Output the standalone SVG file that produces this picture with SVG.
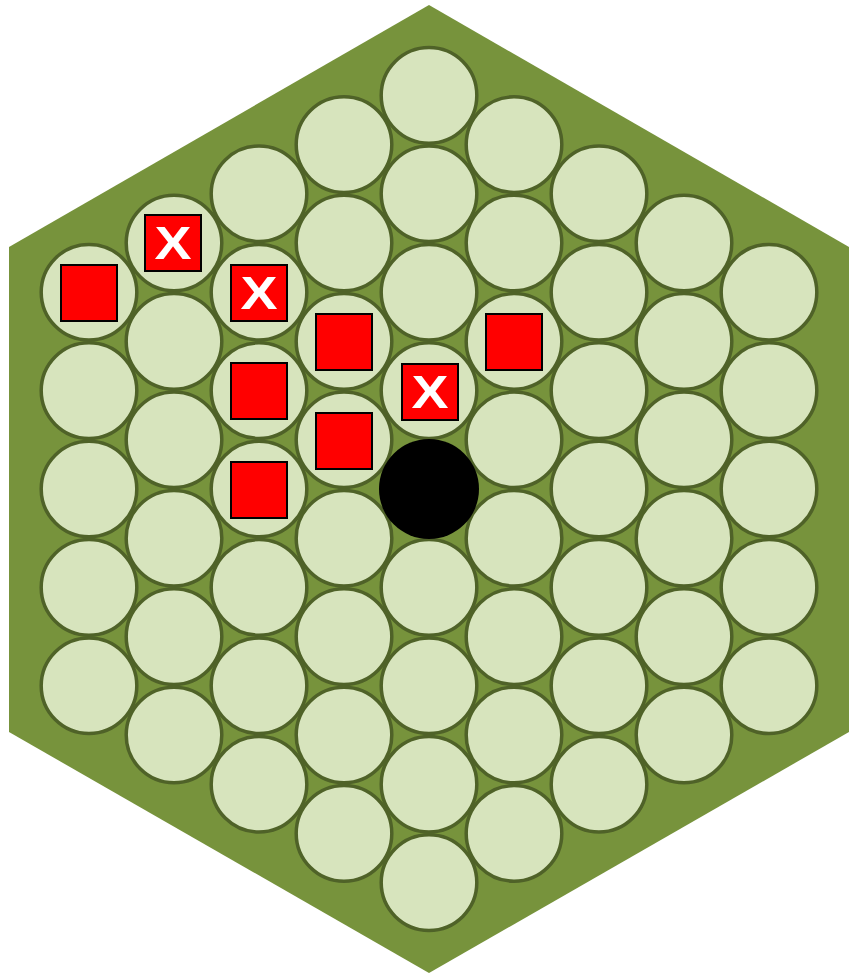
<svg xmlns="http://www.w3.org/2000/svg" width="853" height="976" viewBox="0 0 853 976">
<style>
.h{fill:#d7e4bd;stroke:#4f6228;stroke-width:3.5}
.p{fill:#ff0000;stroke:#000;stroke-width:2}
.x{fill:#fff;font-family:"Liberation Sans",Arial,sans-serif;font-weight:bold;font-size:46px;text-anchor:middle}
</style>
<rect width="853" height="976" fill="#fff"/>
<g id="board"><polygon points="429,5 849,247 849,732 429,973 9,732 9,247" fill="#77933c"/></g>
<g id="cells">
<g id="col-4"><circle class="h" cx="89" cy="292.2" r="47.8"/><circle class="h" cx="89" cy="390.6" r="47.8"/><circle class="h" cx="89" cy="489" r="47.8"/><circle class="h" cx="89" cy="587.4" r="47.8"/><circle class="h" cx="89" cy="685.8" r="47.8"/></g>
<g id="col-3"><circle class="h" cx="174" cy="243" r="47.8"/><circle class="h" cx="174" cy="341.4" r="47.8"/><circle class="h" cx="174" cy="439.8" r="47.8"/><circle class="h" cx="174" cy="538.2" r="47.8"/><circle class="h" cx="174" cy="636.6" r="47.8"/><circle class="h" cx="174" cy="735" r="47.8"/></g>
<g id="col-2"><circle class="h" cx="259" cy="193.8" r="47.8"/><circle class="h" cx="259" cy="292.2" r="47.8"/><circle class="h" cx="259" cy="390.6" r="47.8"/><circle class="h" cx="259" cy="489" r="47.8"/><circle class="h" cx="259" cy="587.4" r="47.8"/><circle class="h" cx="259" cy="685.8" r="47.8"/><circle class="h" cx="259" cy="784.2" r="47.8"/></g>
<g id="col-1"><circle class="h" cx="344" cy="144.6" r="47.8"/><circle class="h" cx="344" cy="243" r="47.8"/><circle class="h" cx="344" cy="341.4" r="47.8"/><circle class="h" cx="344" cy="439.8" r="47.8"/><circle class="h" cx="344" cy="538.2" r="47.8"/><circle class="h" cx="344" cy="636.6" r="47.8"/><circle class="h" cx="344" cy="735" r="47.8"/><circle class="h" cx="344" cy="833.4" r="47.8"/></g>
<g id="col0"><circle class="h" cx="429" cy="95.4" r="47.8"/><circle class="h" cx="429" cy="193.8" r="47.8"/><circle class="h" cx="429" cy="292.2" r="47.8"/><circle class="h" cx="429" cy="390.6" r="47.8"/><circle class="h" cx="429" cy="587.4" r="47.8"/><circle class="h" cx="429" cy="685.8" r="47.8"/><circle class="h" cx="429" cy="784.2" r="47.8"/><circle class="h" cx="429" cy="882.6" r="47.8"/></g>
<g id="col1"><circle class="h" cx="514" cy="144.6" r="47.8"/><circle class="h" cx="514" cy="243" r="47.8"/><circle class="h" cx="514" cy="341.4" r="47.8"/><circle class="h" cx="514" cy="439.8" r="47.8"/><circle class="h" cx="514" cy="538.2" r="47.8"/><circle class="h" cx="514" cy="636.6" r="47.8"/><circle class="h" cx="514" cy="735" r="47.8"/><circle class="h" cx="514" cy="833.4" r="47.8"/></g>
<g id="col2"><circle class="h" cx="599" cy="193.8" r="47.8"/><circle class="h" cx="599" cy="292.2" r="47.8"/><circle class="h" cx="599" cy="390.6" r="47.8"/><circle class="h" cx="599" cy="489" r="47.8"/><circle class="h" cx="599" cy="587.4" r="47.8"/><circle class="h" cx="599" cy="685.8" r="47.8"/><circle class="h" cx="599" cy="784.2" r="47.8"/></g>
<g id="col3"><circle class="h" cx="684" cy="243" r="47.8"/><circle class="h" cx="684" cy="341.4" r="47.8"/><circle class="h" cx="684" cy="439.8" r="47.8"/><circle class="h" cx="684" cy="538.2" r="47.8"/><circle class="h" cx="684" cy="636.6" r="47.8"/><circle class="h" cx="684" cy="735" r="47.8"/></g>
<g id="col4"><circle class="h" cx="769" cy="292.2" r="47.8"/><circle class="h" cx="769" cy="390.6" r="47.8"/><circle class="h" cx="769" cy="489" r="47.8"/><circle class="h" cx="769" cy="587.4" r="47.8"/><circle class="h" cx="769" cy="685.8" r="47.8"/></g>
</g>
<g id="center-stone"><circle cx="429" cy="489" r="50" fill="#000"/></g>
<g id="piece1"><rect class="p" x="61" y="265" width="56" height="56"/></g>
<g id="piece2"><rect class="p" x="145" y="215" width="56" height="56"/><text class="x" x="173" y="259" textLength="37" lengthAdjust="spacingAndGlyphs">X</text></g>
<g id="piece3"><rect class="p" x="231" y="265" width="56" height="56"/><text class="x" x="259" y="309" textLength="37" lengthAdjust="spacingAndGlyphs">X</text></g>
<g id="piece4"><rect class="p" x="316" y="314" width="56" height="56"/></g>
<g id="piece5"><rect class="p" x="231" y="363" width="56" height="56"/></g>
<g id="piece6"><rect class="p" x="316" y="413" width="56" height="56"/></g>
<g id="piece7"><rect class="p" x="231" y="462" width="56" height="56"/></g>
<g id="piece8"><rect class="p" x="402" y="364" width="56" height="56"/><text class="x" x="430" y="408" textLength="37" lengthAdjust="spacingAndGlyphs">X</text></g>
<g id="piece9"><rect class="p" x="486" y="314" width="56" height="56"/></g>
</svg>
